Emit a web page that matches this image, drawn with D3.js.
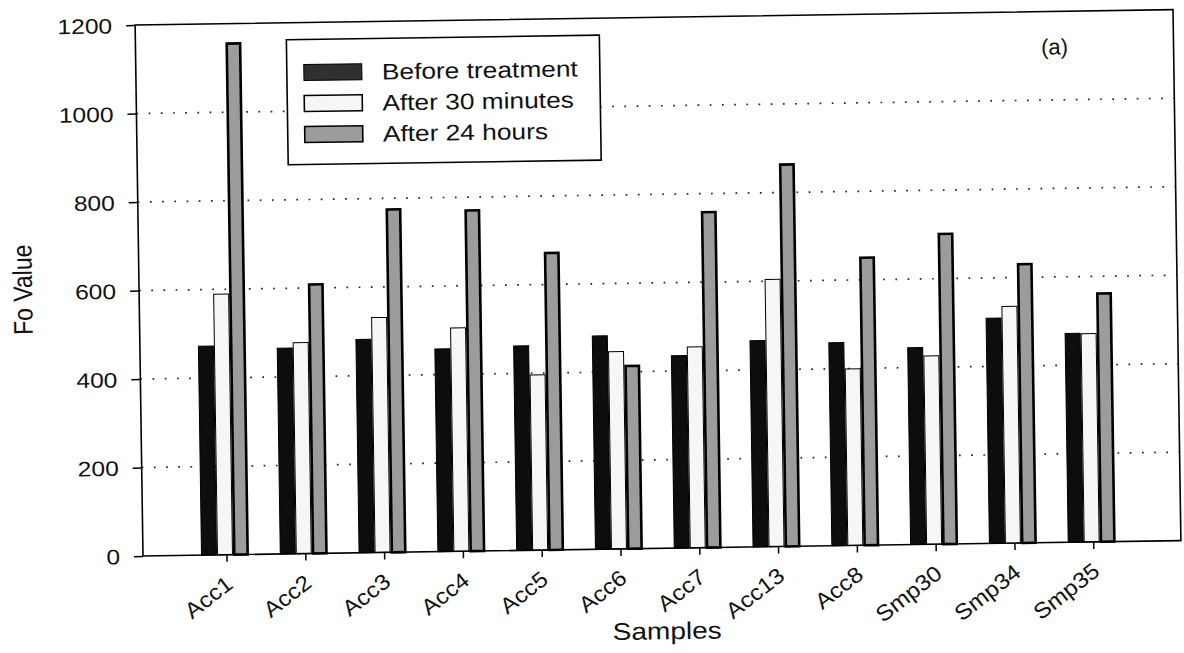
<!DOCTYPE html>
<html>
<head>
<meta charset="utf-8">
<script src="https://cdn.jsdelivr.net/npm/d3@7"></script>
<style>
  html, body { margin: 0; padding: 0; background: #fff; }
  svg { display: block; }
  text { font-family: "Liberation Sans", Arial, Helvetica, sans-serif; fill: #111; }
</style>
</head>
<body>
<svg id="chart" width="1184" height="653"></svg>
<script>
// ---- data ----
const categories = ["Acc1","Acc2","Acc3","Acc4","Acc5","Acc6","Acc7","Acc13","Acc8","Smp30","Smp34","Smp35"];
const seriesNames = ["Before treatment","After 30 minutes","After 24 hours"];
const beforeTreatment = [472, 465, 482, 458, 462, 482, 435, 466, 459, 445, 509, 472];
const after30Minutes  = [589, 477, 531, 505, 396, 446, 454, 604, 399, 426, 535, 471];
const after24Hours    = [1155, 608, 775, 770, 671, 413, 758, 863, 650, 701, 630, 561];
const yTicks = [0, 200, 400, 600, 800, 1000, 1200];
const gridValues = [200, 400, 600, 800, 1000];

const seriesValues = [beforeTreatment, after30Minutes, after24Hours];
const rows = categories.map((c, i) => ({cat: c, vals: seriesValues.map(s => s[i])}));

// ---- layout ----
const L = 143, R = 1181, T = 25, B = 556;
const stretch = 1.17;
const fills = ["#0d0d0d", "#f6f6f6", "#9c9c9c"];
const strokes = [1, 1, 2.6];

const svg = d3.select("#chart");
const g = svg.append("g").attr("transform", `rotate(-0.85, ${L}, ${B})`);

const y = d3.scaleLinear().domain([0, 1200]).range([B, T]);
const x = d3.scaleBand().domain(categories).range([185.6, 1131.2])
  .paddingInner(0.391).paddingOuter(0.1955);
const xs = d3.scaleBand().domain(d3.range(3)).range([0, x.bandwidth()]).padding(0);

// grid
g.append("g").selectAll("line").data(gridValues).join("line")
  .attr("x1", L).attr("x2", R)
  .attr("y1", d => y(d)).attr("y2", d => y(d))
  .attr("stroke", "#222").attr("stroke-width", 1.7)
  .attr("stroke-dasharray", "1.7,10.5");

// bars
const grp = g.append("g").selectAll("g").data(rows).join("g")
  .attr("transform", d => `translate(${x(d.cat)},0)`);
grp.selectAll("rect").data(d => d.vals.map((v, k) => ({v, k}))).join("rect")
  .attr("x", d => xs(d.k) + (d.k === 2 ? 1.3 : 0.5))
  .attr("width", d => xs.bandwidth() - (d.k === 2 ? 2.6 : 1))
  .attr("y", d => y(d.v))
  .attr("height", d => y(0) - y(d.v))
  .attr("fill", d => fills[d.k])
  .attr("stroke", "#000")
  .attr("stroke-width", d => strokes[d.k]);

// y axis
const yAxis = g.append("g").attr("transform", `translate(${L},0)`)
  .call(d3.axisLeft(y).tickValues(yTicks).tickSize(9).tickFormat(d3.format("d")));
yAxis.select(".domain").remove();
yAxis.selectAll(".tick line").attr("stroke", "#000").attr("stroke-width", 1.5);
yAxis.selectAll(".tick text")
  .attr("x", 0).attr("dy", "0.36em")
  .attr("transform", `translate(-23,0) scale(${stretch},1)`)
  .style("font-size", "21px").style("font-family", "'Liberation Sans', Arial, sans-serif")
  .attr("fill", "#111");

// x axis
const xAxis = g.append("g").attr("transform", `translate(0,${B})`)
  .call(d3.axisBottom(x).tickSize(7));
xAxis.select(".domain").remove();
xAxis.selectAll(".tick line").attr("stroke", "#000").attr("stroke-width", 1.5)
  .attr("transform", "translate(2,0)");
xAxis.selectAll(".tick text")
  .attr("x", 0).attr("y", 0).attr("dy", 0)
  .attr("text-anchor", "end")
  .attr("transform", "translate(9,32) rotate(-37) scale(1.1,1)")
  .style("font-size", "22px").style("font-family", "'Liberation Sans', Arial, sans-serif")
  .attr("fill", "#111");

// frame
g.append("rect").attr("x", L).attr("y", T).attr("width", R - L).attr("height", B - T)
  .attr("fill", "none").attr("stroke", "#000").attr("stroke-width", 1.6);

// axis titles
g.append("text").attr("transform", `translate(36,288) rotate(-90) scale(1,${stretch})`)
  .attr("text-anchor", "middle").style("font-size", "23px").text("Fo Value");
g.append("text").attr("transform", `translate(666,647) scale(${stretch},1)`)
  .attr("text-anchor", "middle").style("font-size", "24px").text("Samples");

// panel label
g.append("text").attr("transform", "translate(1062,68)")
  .attr("text-anchor", "middle").style("font-size", "22px").text("(a)");

// legend
const lg = g.append("g").attr("transform", "translate(294,42)");
lg.append("rect").attr("width", 313).attr("height", 125)
  .attr("fill", "#fff").attr("stroke", "#000").attr("stroke-width", 1.6);
const legendFills = ["#303030", "#f6f6f6", "#9c9c9c"];
const items = lg.selectAll("g.item").data(seriesNames).join("g").attr("class", "item")
  .attr("transform", (d, i) => `translate(17,${33 + i * 31})`);
items.append("rect").attr("x", 0).attr("y", -8).attr("width", 58).attr("height", 16)
  .attr("fill", (d, i) => legendFills[i]).attr("stroke", "#000")
  .attr("stroke-width", (d, i) => i === 0 ? 1 : 1.6);
items.append("text").attr("transform", `translate(78,8) scale(${stretch},1)`)
  .style("font-size", "22.5px").text(d => d);
</script>
</body>
</html>
